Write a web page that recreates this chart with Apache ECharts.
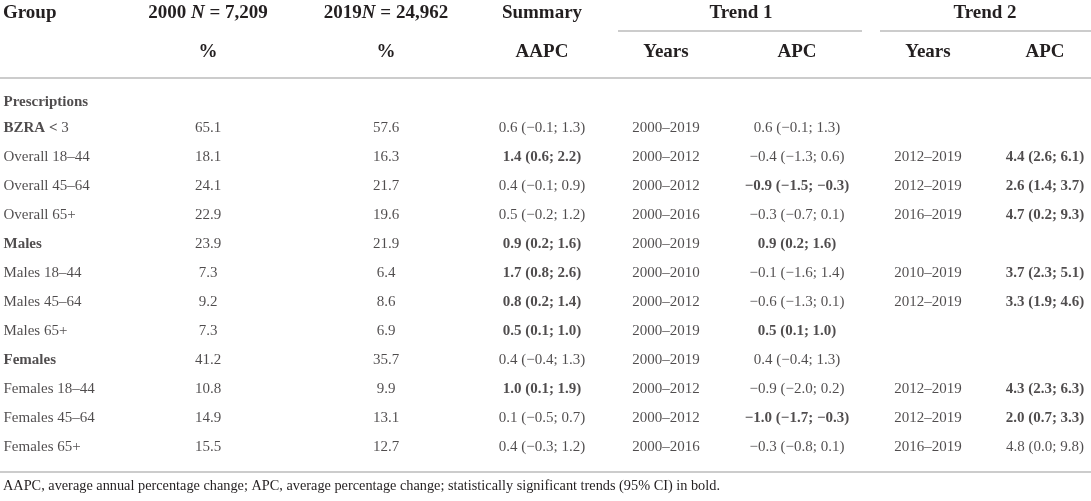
<!DOCTYPE html>
<html>
<head>
<meta charset="utf-8">
<script src="https://cdn.jsdelivr.net/npm/echarts@6.0.0/dist/echarts.min.js"></script>
<style>
  html, body { margin: 0; padding: 0; background: #fff; }
  #chart-container { width: 1091px; height: 501px; }
</style>
</head>
<body>
<div id="chart-container"></div>
<script>
// rows of the table (first row is the section title)
var groups = ['Prescriptions', 'BZRA < 3', 'Overall 18–44', 'Overall 45–64', 'Overall 65+',
    'Males', 'Males 18–44', 'Males 45–64', 'Males 65+',
    'Females', 'Females 18–44', 'Females 45–64', 'Females 65+'];
var groupBold = [1, 1, 0, 0, 0, 1, 0, 0, 0, 1, 0, 0, 0];

var pct2000 = [null, 65.1, 18.1, 24.1, 22.9, 23.9, 7.3, 9.2, 7.3, 41.2, 10.8, 14.9, 15.5];
var pct2019 = [null, 57.6, 16.3, 21.7, 19.6, 21.9, 6.4, 8.6, 6.9, 35.7, 9.9, 13.1, 12.7];

// [estimate, lower, upper]
var aapc = [null, [0.6, -0.1, 1.3], [1.4, 0.6, 2.2], [0.4, -0.1, 0.9], [0.5, -0.2, 1.2],
    [0.9, 0.2, 1.6], [1.7, 0.8, 2.6], [0.8, 0.2, 1.4], [0.5, 0.1, 1.0],
    [0.4, -0.4, 1.3], [1.0, 0.1, 1.9], [0.1, -0.5, 0.7], [0.4, -0.3, 1.2]];
var aapcBold = [0, 0, 1, 0, 0, 1, 1, 1, 1, 0, 1, 0, 0];

var trend1Years = ['', '2000–2019', '2000–2012', '2000–2012', '2000–2016', '2000–2019', '2000–2010',
    '2000–2012', '2000–2019', '2000–2019', '2000–2012', '2000–2012', '2000–2016'];
var apc1 = [null, [0.6, -0.1, 1.3], [-0.4, -1.3, 0.6], [-0.9, -1.5, -0.3], [-0.3, -0.7, 0.1],
    [0.9, 0.2, 1.6], [-0.1, -1.6, 1.4], [-0.6, -1.3, 0.1], [0.5, 0.1, 1.0],
    [0.4, -0.4, 1.3], [-0.9, -2.0, 0.2], [-1.0, -1.7, -0.3], [-0.3, -0.8, 0.1]];
var apc1Bold = [0, 0, 0, 1, 0, 1, 0, 0, 1, 0, 0, 1, 0];

var trend2Years = ['', '', '2012–2019', '2012–2019', '2016–2019', '', '2010–2019',
    '2012–2019', '', '', '2012–2019', '2012–2019', '2016–2019'];
var apc2 = [null, null, [4.4, 2.6, 6.1], [2.6, 1.4, 3.7], [4.7, 0.2, 9.3],
    null, [3.7, 2.3, 5.1], [3.3, 1.9, 4.6], null,
    null, [4.3, 2.3, 6.3], [2.0, 0.7, 3.3], [4.8, 0.0, 9.8]];
var apc2Bold = [0, 0, 1, 1, 1, 0, 1, 1, 0, 0, 1, 1, 0];

var footnote = 'AAPC, average annual percentage change; APC, average percentage change; ' +
    'statistically significant trends (95% CI) in bold.';

// layout
var FONT = 'Liberation Serif';
var INK = '#231f20';
var RULE = '#cccccc';
var colX = { group: 3, p2000: 208, p2019: 386, aapc: 542, y1: 666, apc1: 797, y2: 928, apc2: 1045 };

function num(v) {
    var s = v.toFixed(1);
    return v < 0 ? '−' + s.slice(1) : s;
}
function ci(t) {
    return t ? num(t[0]) + ' (' + num(t[1]) + '; ' + num(t[2]) + ')' : '';
}

function column(key, texts, bold, align) {
    var data = [];
    texts.forEach(function (t, i) {
        if (t === '' || t === null) return;
        var lab = {
            formatter: t,
            fontWeight: bold && bold[i] ? 'bold' : 'normal'
        };
        if (key === 'group' && i === 0) lab.offset = [0, 3];   // section title sits a bit lower
        if (key === 'group' && t.indexOf('<') > 0) {
            // only "BZRA <" is bold, the number is not
            lab.formatter = '{b|' + t.slice(0, t.indexOf('<') + 1) + '}' + t.slice(t.indexOf('<') + 1);
            lab.fontWeight = 'normal';
        }
        data.push({ value: [colX[key], groups[i]], label: lab });
    });
    return {
        type: 'scatter',
        symbolSize: 1,
        itemStyle: { color: 'transparent' },
        silent: true,
        label: {
            show: true,
            position: align === 'left' ? 'right' : 'inside',
            distance: 0,
            color: INK,
            fontFamily: FONT,
            fontSize: 15,
            rich: { b: { fontWeight: 'bold', fontFamily: FONT, fontSize: 15, color: INK } }
        },
        data: data
    };
}

var dom = document.getElementById('chart-container');
var myChart = echarts.init(dom, null, { renderer: 'canvas' });

function headText(x, y, text, rich, align) {
    return {
        type: 'text', x: x, y: y, silent: true,
        style: {
            text: text, fill: INK, align: align || 'center', verticalAlign: 'middle',
            fontFamily: FONT, fontSize: 19, fontWeight: 'bold',
            rich: rich || {}
        }
    };
}
function rule(x1, x2, y) {
    return {
        type: 'line', silent: true,
        shape: { x1: x1, y1: y, x2: x2, y2: y },
        style: { stroke: RULE, lineWidth: 2 }
    };
}

var italicN = { i: { fontStyle: 'italic', fontWeight: 'bold', fontFamily: FONT, fontSize: 19, fill: INK } };

var option = {
    animation: false,
    grid: { left: 0, right: 0, top: 84.5, bottom: 39.5 },
    xAxis: { type: 'value', min: 0, max: 1091, show: false },
    yAxis: { type: 'category', data: groups, inverse: true, show: false },
    graphic: [
        headText(3, 13, 'Group', null, 'left'),
        headText(colX.p2000, 13, '2000 {i|N} = 7,209', italicN),
        headText(colX.p2019, 13, '2019{i|N} = 24,962', italicN),
        headText(colX.aapc, 13, 'Summary'),
        headText(741, 13, 'Trend 1'),
        headText(985, 13, 'Trend 2'),
        headText(colX.p2000, 52, '%'),
        headText(colX.p2019, 52, '%'),
        headText(colX.aapc, 52, 'AAPC'),
        headText(colX.y1, 52, 'Years'),
        headText(colX.apc1, 52, 'APC'),
        headText(colX.y2, 52, 'Years'),
        headText(colX.apc2, 52, 'APC'),
        rule(618, 862, 31),
        rule(880, 1091, 31),
        rule(0, 1091, 78),
        rule(0, 1091, 472),
        { type: 'text', x: 3, y: 486, silent: true,
          style: { text: footnote, fill: INK, align: 'left', verticalAlign: 'middle',
                   fontFamily: FONT, fontSize: 14.3 } }
    ],
    series: [
        column('group', groups, groupBold, 'left'),
        column('p2000', pct2000.map(function (v) { return v === null ? '' : v.toFixed(1); })),
        column('p2019', pct2019.map(function (v) { return v === null ? '' : v.toFixed(1); })),
        column('aapc', aapc.map(ci), aapcBold),
        column('y1', trend1Years),
        column('apc1', apc1.map(ci), apc1Bold),
        column('y2', trend2Years),
        column('apc2', apc2.map(ci), apc2Bold)
    ]
};

if (option && typeof option === 'object') {
    myChart.setOption(option);
}

window.addEventListener('resize', myChart.resize);
</script>
</body>
</html>
